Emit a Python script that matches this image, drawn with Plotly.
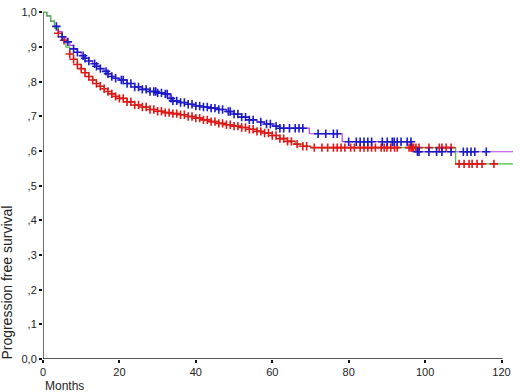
import numpy as np
import plotly.graph_objects as go

# ---- data ----
x_ticks = [0, 20, 40, 60, 80, 100, 120]
y_ticks = [0.0, 0.1, 0.2, 0.3, 0.4, 0.5, 0.6, 0.7, 0.8, 0.9, 1.0]
y_tick_labels = ["0,0", ",1", ",2", ",3", ",4", ",5", ",6", ",7", ",8", ",9", "1,0"]

blue_times = [0, 1, 2, 3, 4, 5, 6, 7, 8, 9, 10, 11, 12, 13, 14, 15, 16, 17, 18, 19, 20,
              22, 24, 26, 28, 30, 32, 33, 34, 36, 38, 40, 42, 44, 46, 48, 50, 52, 54,
              56, 58, 60, 62, 69.7, 78.3, 96.5, 123]
blue_surv = [1.0, 0.99, 0.975, 0.96, 0.945, 0.93, 0.915, 0.905, 0.895, 0.885, 0.875,
             0.868, 0.86, 0.852, 0.845, 0.838, 0.83, 0.823, 0.815, 0.81, 0.805,
             0.795, 0.785, 0.778, 0.772, 0.768, 0.765, 0.752, 0.745, 0.74, 0.735, 0.73,
             0.727, 0.724, 0.72, 0.714, 0.707, 0.698, 0.69, 0.684, 0.678, 0.672, 0.666,
             0.65, 0.627, 0.598, 0.598]
blue_censor = [3.5, 5, 6.5, 8, 9, 10.5, 11, 12, 13.5, 14, 15, 16.5, 17, 18, 19, 20.5, 21,
               22, 23, 24, 25, 26, 27, 28, 29, 29.5, 30, 31, 32, 32.5, 33.5, 34, 35, 36,
               37, 38, 39, 40, 41, 42, 43, 44, 45, 46, 47, 48.5, 49, 50, 51, 52, 53, 54,
               55, 57, 58.5, 59.5, 61, 62, 63, 64.5, 66, 67, 68, 72, 74, 76, 77, 80, 82,
               83, 84, 85, 86, 88.8, 90.1, 91.4, 91.9, 92.7, 93.7, 95.3, 96.3, 98, 98.4,
               101, 103, 104.4, 106.8, 110, 111, 112, 113, 116]

red_times = [0, 1, 2, 3, 4, 5, 6, 7, 8, 9, 10, 11, 12, 13, 14, 15, 16, 17, 18, 19, 20,
             22, 24, 26, 28, 30, 32, 34, 36, 38, 40, 42, 44, 46, 48, 50, 52, 54, 56, 58,
             60, 62, 64, 66, 68, 70, 108, 123]
red_surv = [1.0, 0.99, 0.975, 0.955, 0.94, 0.92, 0.9, 0.88, 0.865, 0.85, 0.838, 0.826,
            0.815, 0.805, 0.795, 0.787, 0.78, 0.772, 0.765, 0.758, 0.752, 0.742, 0.733,
            0.727, 0.72, 0.715, 0.711, 0.708, 0.705, 0.7, 0.695, 0.69, 0.685, 0.68,
            0.676, 0.672, 0.668, 0.663, 0.657, 0.652, 0.645, 0.636, 0.628, 0.62, 0.614,
            0.61, 0.563, 0.563]
red_censor = [4, 5.5, 7, 8, 9, 10, 11, 12, 13, 14, 15, 16, 17, 18, 19, 20, 21, 22, 23,
              24, 25, 26, 27, 28, 29, 30, 31, 32, 33, 34, 35, 36, 37, 38, 39, 40, 41, 42,
              43, 44, 45, 46, 47, 48, 49, 50, 51, 52, 53, 54, 55, 56, 57, 58, 59, 60,
              61, 62, 63, 64, 65, 66.5, 68, 69, 71, 73, 74.5, 76, 77, 78, 79, 80.5, 81.5,
              83, 84, 85, 86, 87, 88.5, 89.3, 90, 91, 92, 92.7, 95.8, 96.3, 96.6, 97,
              97.6, 98.4, 101, 103.7, 104.4, 105.5, 106.8, 108.9, 110.2, 111.5, 112.3,
              113.6, 114.9, 118]


def step_value(times, surv, t):
    idx = np.searchsorted(np.array(times), np.array(t), side="right") - 1
    return list(np.array(surv)[idx])


fig = go.Figure()

fig.add_trace(go.Scatter(x=blue_times, y=blue_surv, mode="lines",
                         line=dict(color="#c040e8", width=1.2, shape="hv"),
                         hoverinfo="skip", showlegend=False))
fig.add_trace(go.Scatter(x=red_times, y=red_surv, mode="lines",
                         line=dict(color="#40c040", width=1.2, shape="hv"),
                         hoverinfo="skip", showlegend=False))
fig.add_trace(go.Scatter(x=red_censor, y=step_value(red_times, red_surv, red_censor),
                         mode="markers",
                         marker=dict(symbol="cross-thin", size=6,
                                     line=dict(color="#e01818", width=1.6)),
                         showlegend=False))
fig.add_trace(go.Scatter(x=blue_censor, y=step_value(blue_times, blue_surv, blue_censor),
                         mode="markers",
                         marker=dict(symbol="cross-thin", size=6,
                                     line=dict(color="#1a1ac8", width=1.6)),
                         showlegend=False))

# axis lines
fig.add_shape(type="line", xref="x", yref="y", x0=0, x1=0, y0=0, y1=1.0,
              line=dict(color="#707070", width=2))
fig.add_shape(type="line", xref="x", yref="y", x0=0, x1=120.3, y0=0, y1=0,
              line=dict(color="#202020", width=1.5))

font = "Liberation Sans, Arial, sans-serif"
fig.update_layout(
    width=520, height=392,
    margin=dict(l=43, r=7, t=9, b=33),
    paper_bgcolor="white", plot_bgcolor="white",
    font=dict(family=font, size=11, color="#222222"),
    xaxis=dict(range=[0, 123], tickvals=x_ticks, ticktext=[str(v) for v in x_ticks],
               showgrid=False, zeroline=False, showline=False,
               ticks="outside", ticklen=3, tickwidth=2, tickcolor="#101010",
               tickfont=dict(size=11, color="#222222")),
    yaxis=dict(range=[0, 1.01], tickvals=y_ticks, ticktext=y_tick_labels,
               showgrid=False, zeroline=False, showline=False,
               ticks="outside", ticklen=3, tickwidth=2, tickcolor="#101010",
               tickfont=dict(size=11, color="#222222")),
    annotations=[
        dict(text="Months", xref="paper", yref="paper", x=0, y=-0.077,
             xanchor="left", yanchor="middle", showarrow=False,
             font=dict(family=font, size=12, color="#222222")),
        dict(text="Progression free survival", xref="paper", yref="paper",
             x=-0.077, y=-0.008, xanchor="center", yanchor="bottom", textangle=-90,
             showarrow=False, font=dict(family=font, size=14, color="#222222")),
    ],
)

# remove the default page margin so the figure fills the window exactly
fig.write_html("out.html", config={"displayModeBar": False},
               post_script="document.body.style.margin='0';document.body.style.overflow='hidden';")
